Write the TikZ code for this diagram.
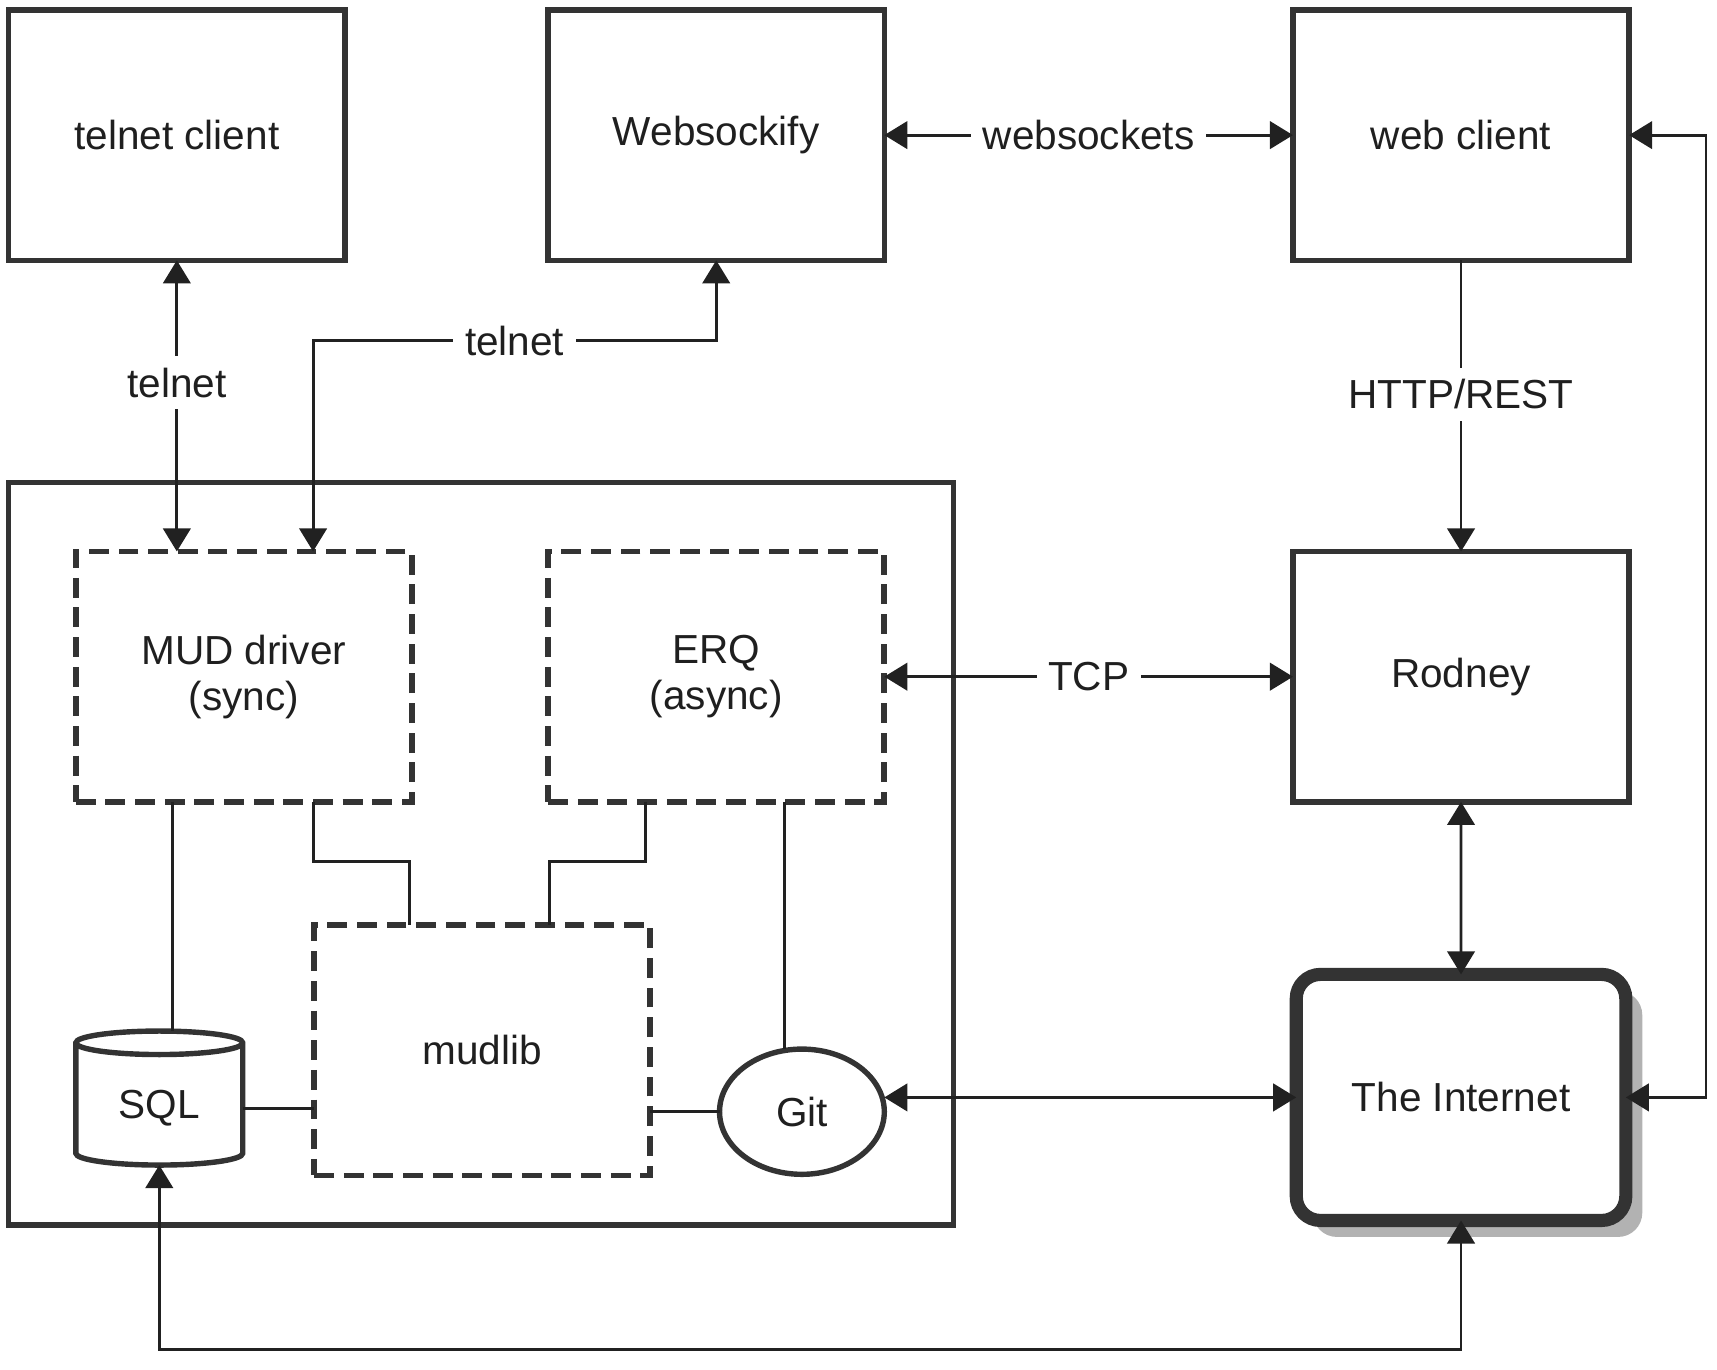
\documentclass[tikz,border=0pt]{standalone}
\usepackage{fontspec}
\setmainfont{Liberation Sans}
\usepackage{tikz}
\usetikzlibrary{arrows.meta,%
                shapes,shadows,positioning}
\definecolor{boxgray}{rgb}{0.2,0.2,0.2}
\definecolor{linegray}{rgb}{0.13,0.13,0.13}

\begin{document}
\begin{tikzpicture}[node distance = 1.85 cm,
                    >={Triangle[length=2.1mm,width=2.5mm]},
                    font=\fontsize{10.5}{12}\selectfont]
  \useasboundingbox (0,0) rectangle (15.63,-12.47);
  \tikzset{BoxStyle/.style  = {shape          = rectangle,
                               draw           = boxgray,
                               line width     = 1.4pt,
                               text           = black!88,
                               align          = center,
                               outer sep      = 0pt,
                               minimum width  = 3.06 cm,
                               minimum height = 2.28 cm}}
  \tikzset{DashStyle/.style = {BoxStyle,
                               line width     = 1.5pt,
                               dash pattern   = on 0.18cm off 0.09cm}}
  \tikzset{LinkStyle/.style = {draw           = linegray,
                               line width     = 0.75pt}}
  \tikzset{TagStyle/.style  = {fill           = white,
                               text           = black!88,
                               inner sep      = 3pt}}
     % outer box
     \node[BoxStyle, minimum width = 8.6 cm, minimum height = 6.76 cm]
          (host) at (4.38,-7.77) {};

     \node[BoxStyle] (tc) at (1.61,-1.23) {telnet client};
     \node[BoxStyle,right=of tc] (ws) {Websockify};
     \node[BoxStyle,right=3.72 cm of ws] (wc) {web client};
     \node[BoxStyle,below=2.65 cm of wc] (rod) {Rodney};
     \node[DashStyle,below=2.65 cm of ws] (erq) {ERQ\\(async)};
     \node[DashStyle] (mud) at (2.22,-6.16) {MUD driver\\(sync)};
     \node[DashStyle] (lib) at (4.39,-9.56) {mudlib};
     \node[shape = cylinder, shape border rotate = 90, aspect = 0.22,
           draw = boxgray, line width = 1.4pt, text = black!88, outer sep = 0pt,
           minimum width = 1.52 cm, minimum height = 1.22 cm]
          (sql) at (1.45,-10.09) {SQL};
     \node[shape = ellipse, draw = boxgray, line width = 1.4pt, outer sep = 0pt,
           text = black!88, minimum width = 1.5 cm, minimum height = 1.14 cm]
          (git) at (7.30,-10.12) {Git};
     \node[BoxStyle, rounded corners = 0.22 cm, line width = 3.4pt,
           minimum height = 2.24 cm, minimum width = 3.0 cm, fill = white,
           drop shadow = {shadow xshift = 0.15cm, shadow yshift = -0.15cm,
                          fill = black!30, opacity = 1}]
          (inet) at (13.30,-9.99) {The Internet};

     \draw[LinkStyle,<->](ws) to node[TagStyle]{websockets} (wc);
     \draw[LinkStyle,<->](erq) to node[TagStyle]{TCP} (rod);
     \draw[LinkStyle,->](wc) to node[TagStyle,pos=0.46]{HTTP/REST} (rod);
     \draw[LinkStyle,<->](rod) to (inet);
     \draw[LinkStyle,<->](tc.south) to node[TagStyle,pos=0.42]{telnet}
          (tc.south |- mud.north);
     \draw[LinkStyle,<->]([xshift=0.63cm]mud.north)
          |- node[TagStyle,pos=0.75]{telnet} ([yshift=-0.73cm]ws.south)
          -- (ws.south);
     \draw[LinkStyle,<->](wc.east) -- ++(0.7,0) |- (inet.east);
     \draw[LinkStyle,<->](sql.south) -- ++(0,-1.68) -| (inet.south);
     \draw[LinkStyle,<->](inet.west -| git.east) -- (inet.west);

     \draw[LinkStyle]([xshift=-0.65cm]mud.south) -- ([xshift=-0.65cm]mud.south |- sql.north);
     \draw[LinkStyle]([xshift=0.63cm]mud.south) -- ++(0,-0.54) -| ([xshift=-0.66cm]lib.north);
     \draw[LinkStyle]([xshift=-0.64cm]erq.south) -- ++(0,-0.54) -| ([xshift=0.61cm]lib.north);
     \draw[LinkStyle]([xshift=0.62cm]erq.south) -- ([xshift=0.62cm]erq.south |- git.north);
     \draw[LinkStyle](sql.east) -- (sql.east -| lib.west);
     \draw[LinkStyle](git.west) -- (git.west -| lib.east);
  \end{tikzpicture}
\end{document}
